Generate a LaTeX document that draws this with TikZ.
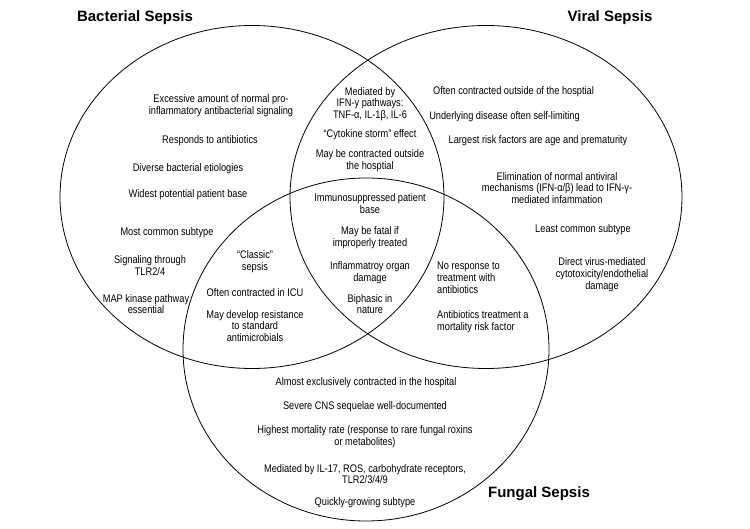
\documentclass[tikz,border=0pt]{standalone}
\usepackage{fontspec}
\setmainfont[FakeStretch=0.84]{Liberation Sans}
\newfontfamily\headfont{Liberation Sans}
\tikzset{
	setline/.style={line width=0.8pt},
	txt/.style={align=center, inner sep=0pt, font=\fontsize{11}{11.8}\selectfont},
	ltxt/.style={txt, align=left, anchor=west},
	head/.style={inner sep=0pt, font=\headfont\bfseries\fontsize{15}{18}\selectfont}
}
\begin{document}
\begin{tikzpicture}[x=1pt,y=-1pt]
	\useasboundingbox (0,0) rectangle (750,529);
	% the three sets
	\draw [setline] (252,197) ellipse [x radius=192pt, y radius=171.5pt];
	\draw [setline] (486,197) ellipse [x radius=196pt, y radius=171.5pt];
	\draw [setline] (366,349.5) ellipse [x radius=183pt, y radius=171.5pt];
	\node [head] (bachead) at (135,18) {Bacterial Sepsis};
	\node [head] (virhead) at (610,18) {Viral Sepsis};
	\node [head] (funhead) at (539,494) {Fungal Sepsis};
	% bacterial only
	\node [txt] (bac1) at (221,105.5) {Excessive amount of normal pro-\\inflammatory antibacterial signaling};
	\node [txt] (bac2) at (210,141) {Responds to antibiotics};
	\node [txt] (bac3) at (188,169) {Diverse bacterial etiologies};
	\node [txt] (bac4) at (188,195) {Widest potential patient base};
	\node [txt] (bac5) at (167,233) {Most common subtype};
	\node [txt] (bac6) at (150,265.5) {Signaling through\\TLR2/4};
	\node [txt] (bac7) at (146,304) {MAP kinase pathway\\essential};
	% bacterial and viral
	\node [txt] (bv1) at (370,104) {Mediated by\\IFN-y pathways:\\TNF-α, IL-1β, IL-6};
	\node [txt] (bv2) at (370,135) {“Cytokine storm” effect};
	\node [txt] (bv3) at (370,160.5) {May be contracted outside\\the hosptial};
	% all three
	\node [txt] (all1) at (370,203.5) {Immunosuppressed patient\\base};
	\node [txt] (all2) at (370,237.5) {May be fatal if\\improperly treated};
	\node [txt] (all3) at (370,272.5) {Inflammatroy organ\\damage};
	\node [txt] (all4) at (370,304) {Biphasic in\\nature};
	% bacterial and fungal
	\node [txt] (bf1) at (255,262) {“Classic”\\sepsis};
	\node [txt] (bf2) at (255,293) {Often contracted in ICU};
	\node [txt] (bf3) at (255,326) {May develop resistance\\to standard\\antimicrobials};
	% viral only
	\node [txt] (vir1) at (513.5,92) {Often contracted outside of the hosptial};
	\node [txt] (vir2) at (504.5,117) {Underlying disease often self-limiting};
	\node [txt] (vir3) at (538,141) {Largest risk factors are age and prematurity};
	\node [txt] (vir4) at (557,188) {Elimination of normal antiviral\\mechanisms (IFN-α/β) lead to IFN-γ-\\mediated infammation};
	\node [txt] (vir5) at (583,230) {Least common subtype};
	\node [txt] (vir6) at (602,274.5) {Direct virus-mediated\\cytotoxicity/endothelial\\damage};
	% viral and fungal
	\node [ltxt] (vf1) at (437,278) {No response to\\treatment with\\antibiotics};
	\node [ltxt] (vf2) at (437,321.5) {Antibiotics treatment a\\mortality risk factor};
	% fungal only
	\node [txt] (fun1) at (366,383) {Almost exclusively contracted in the hospital};
	\node [txt] (fun2) at (365,407) {Severe CNS sequelae well-documented};
	\node [txt] (fun3) at (365,436.5) {Highest mortality rate (response to rare fungal roxins\\or metabolites)};
	\node [txt] (fun4) at (365,474) {Mediated by IL-17, ROS, carbohydrate receptors,\\TLR2/3/4/9};
	\node [txt] (fun5) at (365,503) {Quickly-growing subtype};
\end{tikzpicture}
\end{document}
